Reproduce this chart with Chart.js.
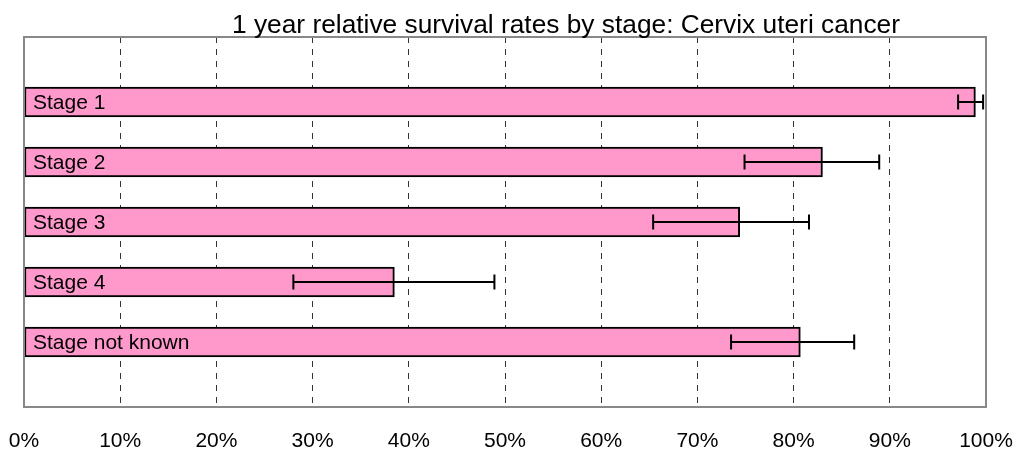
<!DOCTYPE html>
<html lang="en">
<head>
    <meta charset="UTF-8">
    <title>Cervix uteri cancer survival</title>
    <script src="https://cdn.jsdelivr.net/npm/chart.js"></script>
    <style>
        body { margin: 0; background: #fff; }
        #wrap { width: 1021px; height: 450px; position: relative; }
    </style>
</head>
<body>
    <div id="wrap"><canvas id="survChart"></canvas></div>

    <script>
        const chartTitle = '1 year relative survival rates by stage: Cervix uteri cancer';
        const categories = ['Stage 1', 'Stage 2', 'Stage 3', 'Stage 4', 'Stage not known'];
        const survival = [98.9, 83.0, 74.4, 38.5, 80.7];
        const lowerCI = [97.1, 74.9, 65.4, 28.0, 73.5];
        const upperCI = [99.7, 88.9, 81.6, 48.9, 86.3];
        const tickValues = [0, 10, 20, 30, 40, 50, 60, 70, 80, 90, 100];

        const font = '"Liberation Sans", Arial, sans-serif';

        // error bars, labels inside bars, frame and title
        const extras = {
            id: 'extras',
            afterDatasetsDraw(chart) {
                const ctx = chart.ctx;
                const xs = chart.scales.x, ys = chart.scales.y;
                ctx.save();
                ctx.strokeStyle = '#000';
                ctx.lineWidth = 2;
                categories.forEach((c, i) => {
                    const y = ys.getPixelForValue(i);
                    const x1 = xs.getPixelForValue(lowerCI[i]);
                    const x2 = xs.getPixelForValue(upperCI[i]);
                    ctx.beginPath();
                    ctx.moveTo(x1, y); ctx.lineTo(x2, y);
                    ctx.moveTo(x1, y - 7.5); ctx.lineTo(x1, y + 7.5);
                    ctx.moveTo(x2, y - 7.5); ctx.lineTo(x2, y + 7.5);
                    ctx.stroke();

                    ctx.fillStyle = '#000';
                    ctx.font = '21px ' + font;
                    ctx.textAlign = 'left';
                    ctx.textBaseline = 'middle';
                    ctx.fillText(c, xs.getPixelForValue(0) + 9, y + 1);
                });
                const a = chart.chartArea;
                ctx.strokeStyle = '#888';
                ctx.lineWidth = 2;
                ctx.strokeRect(a.left, a.top, a.right - a.left, a.bottom - a.top);

                ctx.fillStyle = '#000';
                ctx.font = '26.3px ' + font;
                ctx.textAlign = 'center';
                ctx.textBaseline = 'alphabetic';
                ctx.fillText(chartTitle, 566, 33);
                ctx.restore();
            }
        };

        const ctx = document.getElementById('survChart').getContext('2d');
        new Chart(ctx, {
            type: 'bar',
            data: {
                labels: categories,
                datasets: [{
                    data: survival.map((v, i) => ({ x: v, y: i })),
                    backgroundColor: '#FF99CC',
                    borderColor: '#000',
                    borderWidth: 2,
                    borderSkipped: false,
                    barThickness: 30
                }]
            },
            options: {
                indexAxis: 'y',
                responsive: true,
                maintainAspectRatio: false,
                animation: false,
                layout: { padding: { left: 24, right: 35, top: 37, bottom: 0 } },
                plugins: {
                    legend: { display: false },
                    title: { display: false },
                    tooltip: { enabled: false }
                },
                scales: {
                    x: {
                        type: 'linear',
                        min: 0,
                        max: 100,
                        afterBuildTicks: axis => { axis.ticks = tickValues.map(v => ({ value: v })); },
                        afterFit: axis => { axis.height = 43; },
                        ticks: {
                            callback: v => v + '%',
                            color: '#000',
                            font: { family: font, size: 21 },
                            padding: 0,
                            maxRotation: 0
                        },
                        grid: {
                            drawTicks: true,
                            tickLength: 22,
                            tickColor: 'rgba(0,0,0,0)',
                            color: c => (c.tick && (c.tick.value === 0 || c.tick.value === 100)) ? 'rgba(0,0,0,0)' : '#333',
                            lineWidth: 1
                        },
                        border: { display: false, dash: [6, 6] }
                    },
                    y: {
                        type: 'linear',
                        reverse: true,
                        offset: false,
                        min: -1.0833,
                        max: 5.0833,
                        display: false
                    }
                }
            },
            plugins: [extras]
        });
    </script>
</body>
</html>
